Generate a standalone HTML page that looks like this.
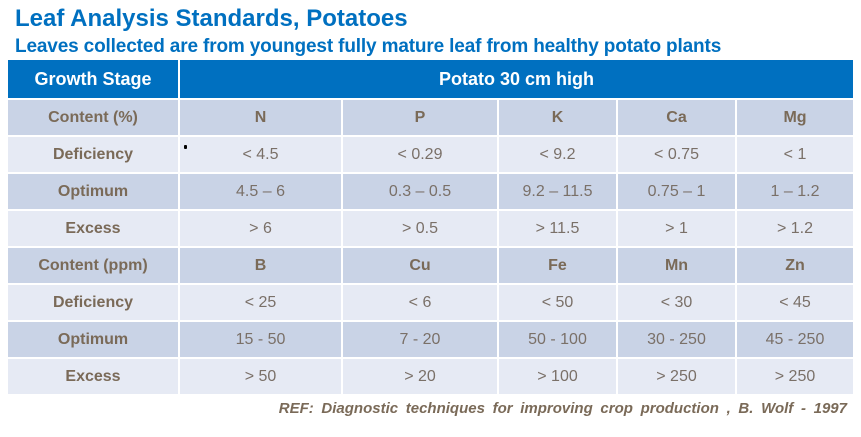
<!DOCTYPE html>
<html><head><style>
body{margin:0;width:861px;height:437px;background:#fff;font-family:"Liberation Sans",sans-serif;position:relative;overflow:hidden}
.t1{position:absolute;left:15px;top:5px;font-size:24px;font-weight:bold;color:#0070C0;white-space:nowrap}
.t2{position:absolute;left:15px;top:36px;font-size:19px;font-weight:bold;color:#0070C0;white-space:nowrap;letter-spacing:-0.15px}
table{position:absolute;left:6px;top:58px;border-collapse:collapse;table-layout:fixed;width:847px}
td{border:2px solid #fff;text-align:center;font-size:16px;color:#706458;padding:0;height:35px}
tr.h td{background:#0070C0;color:#fff;font-weight:bold;font-size:18px;height:38px}
tr.d td{background:#C9D3E6}
tr.l td{background:#E6EAF4}
td.b{font-weight:bold;color:#7A6A58}
tr.d td.v,tr.l td.v{color:#7a7068}
.ref{position:absolute;right:14px;top:400px;font-size:15px;font-weight:bold;font-style:italic;color:#7A6A58;white-space:nowrap;word-spacing:3.5px}
</style></head><body>
<div class="t1">Leaf Analysis Standards, Potatoes</div>
<div class="t2">Leaves collected are from youngest fully mature leaf from healthy potato plants</div>
<table>
<colgroup><col style="width:172px"><col style="width:163px"><col style="width:156px"><col style="width:119px"><col style="width:119px"><col style="width:118px"></colgroup>
<tr class="h"><td>Growth Stage</td><td colspan="5">Potato 30 cm high</td></tr>
<tr class="d"><td class="b">Content (%)</td><td class="b">N</td><td class="b">P</td><td class="b">K</td><td class="b">Ca</td><td class="b">Mg</td></tr>
<tr class="l"><td class="b">Deficiency</td><td class="v">&lt; 4.5</td><td class="v">&lt; 0.29</td><td class="v">&lt; 9.2</td><td class="v">&lt; 0.75</td><td class="v">&lt; 1</td></tr>
<tr class="d"><td class="b">Optimum</td><td class="v">4.5 – 6</td><td class="v">0.3 – 0.5</td><td class="v">9.2 – 11.5</td><td class="v">0.75 – 1</td><td class="v">1 – 1.2</td></tr>
<tr class="l"><td class="b">Excess</td><td class="v">&gt; 6</td><td class="v">&gt; 0.5</td><td class="v">&gt; 11.5</td><td class="v">&gt; 1</td><td class="v">&gt; 1.2</td></tr>
<tr class="d"><td class="b">Content (ppm)</td><td class="b">B</td><td class="b">Cu</td><td class="b">Fe</td><td class="b">Mn</td><td class="b">Zn</td></tr>
<tr class="l"><td class="b">Deficiency</td><td class="v">&lt; 25</td><td class="v">&lt; 6</td><td class="v">&lt; 50</td><td class="v">&lt; 30</td><td class="v">&lt; 45</td></tr>
<tr class="d"><td class="b">Optimum</td><td class="v">15 - 50</td><td class="v">7 - 20</td><td class="v">50 - 100</td><td class="v">30 - 250</td><td class="v">45 - 250</td></tr>
<tr class="l"><td class="b">Excess</td><td class="v">&gt; 50</td><td class="v">&gt; 20</td><td class="v">&gt; 100</td><td class="v">&gt; 250</td><td class="v">&gt; 250</td></tr>
</table>
<div style="position:absolute;left:184px;top:145px;width:3px;height:4px;background:#000;border-radius:1px"></div>
<div class="ref">REF: Diagnostic techniques for improving crop production , B. Wolf - 1997</div>
</body></html>
